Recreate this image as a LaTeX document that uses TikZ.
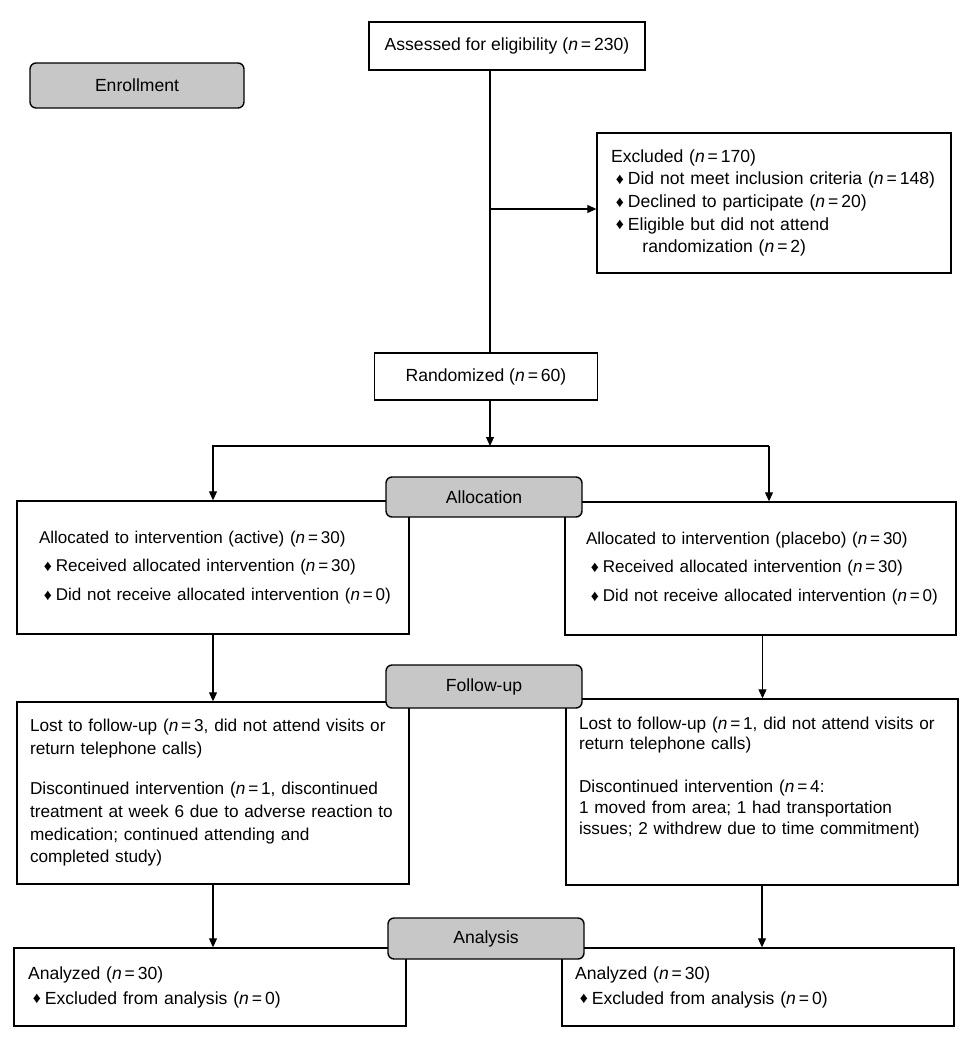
\documentclass[tikz,border=0pt]{standalone}
\usepackage{fontspec}
\setmainfont{Liberation Sans}
\usetikzlibrary{arrows.meta,calc}
\def\ncount{\textit{n}\,=\,}
\def\dmd{\hspace*{2.8pt}\makebox[6.8pt][l]{\raisebox{0.2pt}{\fontsize{9}{9}\selectfont ♦}}}
\def\fline#1{\makebox[\hsize][l]{#1}}

\begin{document}
\begin{tikzpicture}[x=0.02cm, y=-0.02cm,
	flowbox/.style={draw, line width=0.8pt, align=left, inner ysep=0pt, font=\fontsize{10}{12.9}\selectfont},
	topbox/.style={draw, line width=0.8pt, align=center, inner sep=0pt, font=\fontsize{10}{12}\selectfont},
	stagebox/.style={draw, line width=0.8pt, fill=black!22, rounded corners=1.2mm, inner sep=0pt, font=\fontsize{10}{12}\selectfont},
	flowline/.style={line width=0.6pt},
	flowarrow/.style={line width=0.6pt, -{Triangle[length=1.8mm, width=1.6mm]}}]
	%%%%% START %%%%%
	
	\useasboundingbox (0,0) rectangle (977,1050);
	
	% enrollment
	\node[topbox, minimum width=5.52cm, minimum height=0.96cm] (assess) at (507, 46) {Assessed for eligibility (\ncount 230)};
	\node[flowbox, inner xsep=0.28cm, text width=6.52cm, minimum height=2.8cm] (excl) at (774, 203) {Excluded (\ncount 170)\\
		\fline{\dmd Did not meet inclusion criteria (\ncount 148)}\\
		\dmd Declined to participate (\ncount 20)\\
		\dmd Eligible but did not attend\\
		\hspace*{17.9pt}randomization (\ncount 2)};
	\node[topbox, minimum width=4.46cm, minimum height=0.94cm] (rand) at (486, 376.5) {Randomized (\ncount 60)};
	
	% allocation
	\node[flowbox, inner xsep=0.44cm, text width=6.96cm, minimum height=2.66cm, font=\fontsize{9.7}{16.2}\selectfont] (lalloc) at (213, 567.5) {\fline{Allocated to intervention (active) (\ncount 30)}\\
		\fline{\dmd Received allocated intervention (\ncount 30)}\\
		\fline{\dmd Did not receive allocated intervention (\ncount 0)}};
	\node[flowbox, inner xsep=0.42cm, text width=6.98cm, minimum height=2.66cm, font=\fontsize{9.7}{16.2}\selectfont] (ralloc) at (760.5, 568.5) {\fline{Allocated to intervention (placebo) (\ncount 30)}\\
		\fline{\dmd Received allocated intervention (\ncount 30)}\\
		\fline{\dmd Did not receive allocated intervention (\ncount 0)}};
	
	% follow-up
	\node[flowbox, inner xsep=0.26cm, text width=7.32cm, minimum height=3.64cm, font=\fontsize{9.8}{13}\selectfont] (lfollow) at (213, 793) {\fline{Lost to follow-up (\ncount 3, did not attend visits or}\\
		return telephone calls)\\[9.6pt]
		\fline{Discontinued intervention (\ncount 1, discontinued}\\
		\fline{treatment at week 6 due to adverse reaction to}\\
		medication; continued attending and\\
		completed study)};
	\node[flowbox, inner xsep=0.26cm, text width=7.32cm, minimum height=3.72cm, font=\fontsize{9.8}{11.9}\selectfont] (rfollow) at (762, 792) {\fline{Lost to follow-up (\ncount 1, did not attend visits or}\\
		return telephone calls)\\[12.5pt]
		Discontinued intervention (\ncount 4:\\
		1 moved from area; 1 had transportation\\
		\fline{issues; 2 withdrew due to time commitment)}\\[6.8pt]
		\mbox{}};
	
	% analysis
	\node[flowbox, inner xsep=0.28cm, text width=7.28cm, minimum height=1.56cm, font=\fontsize{10}{14.2}\selectfont] (lanal) at (210, 987) {Analyzed (\ncount 30)\\
		\dmd Excluded from analysis (\ncount 0)};
	\node[flowbox, inner xsep=0.26cm, text width=7.32cm, minimum height=1.56cm, font=\fontsize{10}{14.2}\selectfont] (ranal) at (758, 987) {Analyzed (\ncount 30)\\
		\dmd Excluded from analysis (\ncount 0)};
	
	% connectors
	\coordinate (split) at (490, 209);
	\coordinate (fork) at (490, 446);
	\coordinate (rdrop) at (769, 446);
	\draw[flowline] (assess.south -| split) -- (rand.north -| split);
	\draw[flowarrow] (split) -- (excl.west |- split);
	\draw[flowarrow] (rand.south -| fork) -- (fork);
	\draw[flowline] (fork) -- (rdrop);
	\draw[flowarrow] (fork) -| (lalloc.north);
	\draw[flowarrow] (rdrop) -- (rdrop |- ralloc.north);
	
	\draw[flowarrow] (lalloc.south) -- (lalloc.south |- lfollow.north);
	\draw[flowarrow] ($(ralloc.south)+(2,0)$) -- ($(ralloc.south |- rfollow.north)+(2,0)$);
	\draw[flowarrow] (lfollow.south) -- (lfollow.south |- lanal.north);
	\draw[flowarrow] (rfollow.south) -- (rfollow.south |- ranal.north);
	
	% stage labels
	\node[stagebox, minimum width=4.28cm, minimum height=0.9cm] (enroll) at (137, 85.5) {Enrollment};
	\node[stagebox, minimum width=3.92cm, minimum height=0.8cm] (alloclbl) at (484, 497) {Allocation};
	\node[stagebox, minimum width=3.92cm, minimum height=0.86cm] (followlbl) at (484, 686.5) {Follow-up};
	\node[stagebox, minimum width=3.92cm, minimum height=0.82cm] (analbl) at (486, 938.5) {Analysis};
	
	%%%%% END %%%%%
\end{tikzpicture}
\end{document}
